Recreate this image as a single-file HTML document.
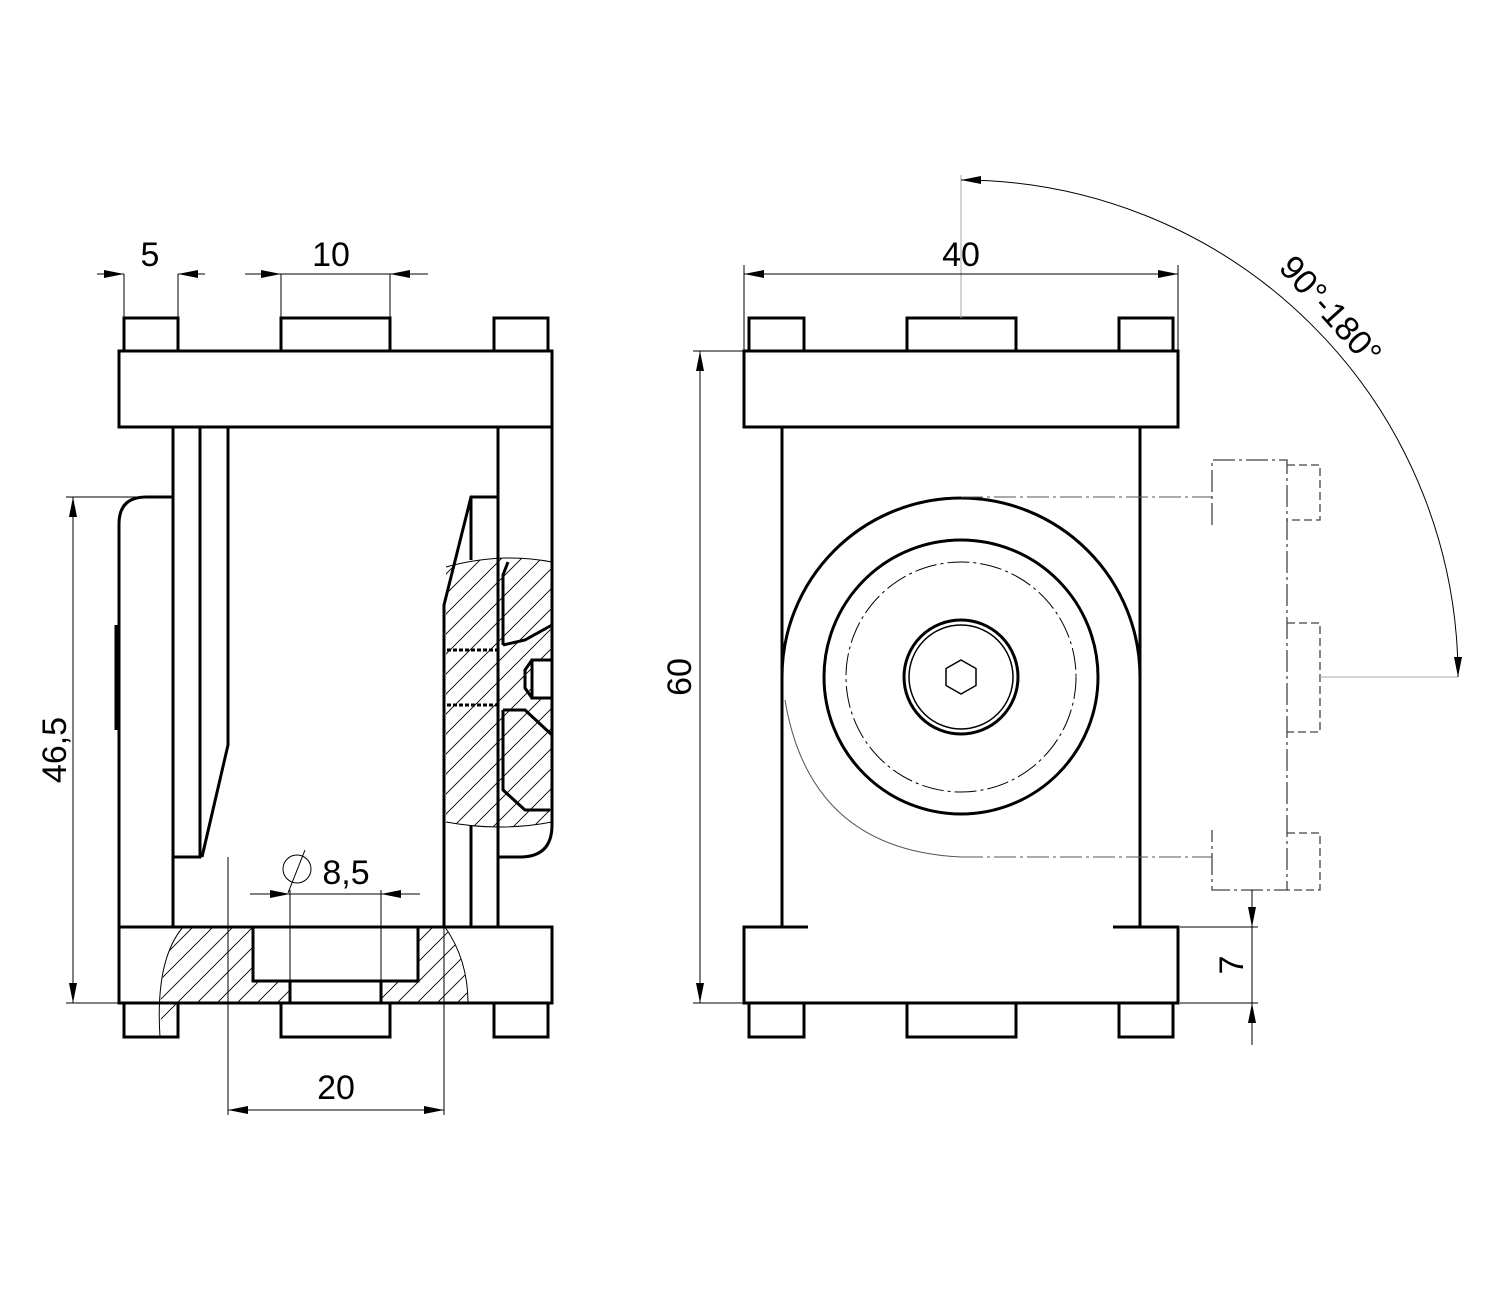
<!DOCTYPE html>
<html><head><meta charset="utf-8"><style>html,body{margin:0;padding:0;background:#fff}svg{display:block}</style></head><body>
<svg width="1500" height="1300" viewBox="0 0 1500 1300" xmlns="http://www.w3.org/2000/svg" font-family="Liberation Sans, sans-serif">
<defs>
<pattern id="h" x="0" y="0" width="20" height="20" patternUnits="userSpaceOnUse"><path d="M-5 5 L5 -5 M0 20 L20 0 M15 25 L25 15" stroke="#000" stroke-width="0.9"/></pattern>
<marker id="a" viewBox="0 0 20 8" refX="20" refY="4" markerWidth="20" markerHeight="8" markerUnits="userSpaceOnUse" orient="auto-start-reverse"><path d="M0,0 L20,4 L0,8 z" fill="#000"/></marker>
</defs>
<!-- hatching left view -->
<path d="M446 567 Q500 552 552 562 V822 Q500 832 446 822 Z" fill="url(#h)"/>
<path d="M183 927 H253 V981 H290 V1003 H381 V981 H418 V927 H445 Q468 960 468 1003 H183 Q165 1010 162 1037 Q155 960 183 927 Z" fill="url(#h)"/>
<g fill="none" stroke="#000" stroke-width="1">
<path d="M446 567 Q500 552 552 562 M446 822 Q500 832 552 822"/>
<path d="M183 927 Q155 960 160 1037 M445 927 Q468 960 468 1003"/>
</g>
<g fill="none" stroke="#000" stroke-width="3">
<!-- left view -->
<rect x="124" y="318" width="54" height="33" fill="#fff"/><rect x="281" y="318" width="109" height="33"/><rect x="494" y="318" width="54" height="33"/>
<rect x="119" y="351" width="433" height="76"/>
<path d="M119 927 H552 V1003 H119 Z"/>
<path d="M124 1003 V1037 H178 V1003 M281 1003 V1037 H390 V1003 M494 1003 V1037 H548 V1003"/>
<path d="M253 927 V981 H418 V927 M290 981 V1003 M381 981 V1003"/>
<path d="M173 427 V927 M200 427 V857 H173 M228 427 V745 L202 857"/>
<path d="M173 497 H146 Q119 497 119 524 V927"/><path d="M116 625 V730"/>
<path d="M498 427 V927 M552 427 V825 Q552 857 520 857 H498"/>
<path d="M498 497 H471 L444 605 V927 M471 497 V560 M471 825 V927"/>
<path d="M508 562 L503 575 V645 M503 710 V790 L525 810 H550"/>
<path d="M503 645 L525 640 L552 625 M503 710 L525 710 L552 735"/>
<path d="M532 660 H552 V698 H532 Z" fill="#fff"/>
<path d="M532 660 L525 670 V688 L532 698"/>
<path d="M447 650 H497 M447 705 H497" stroke-dasharray="4 2"/>
<!-- right view -->
<rect x="749" y="318" width="55" height="33"/><rect x="907" y="318" width="109" height="33"/><rect x="1119" y="318" width="54" height="33"/>
<rect x="744" y="351" width="434" height="76"/>
<path d="M808 927 H744 V1003 H1178 V927 H1113"/>
<path d="M749 1003 V1037 H804 V1003 M907 1003 V1037 H1016 V1003 M1119 1003 V1037 H1173 V1003"/>
<path d="M782 427 V927 M1140 427 V927"/>
<path d="M782 677 A179 179 0 0 1 1140 677"/>
<circle cx="961" cy="677" r="137"/>
<circle cx="961" cy="677" r="57"/>
<circle cx="961" cy="677" r="52" stroke-width="1.5"/>
<path d="M961 660 L976 668.5 V685.5 L961 694 L946 685.5 V668.5 Z" stroke-width="1.5"/>
</g>
<g fill="none" stroke="#000" stroke-width="1">
<circle cx="961" cy="677" r="115" stroke-dasharray="22 4 3 4"/>
<path d="M785 700 Q810 850 961 857" stroke="#555"/>
<path d="M961 857 H1212 M961 497 H1212" stroke-dasharray="22 4 3 4" stroke="#555"/>
<g stroke="#444" stroke-width="1.3">
<path d="M1212 525 V460 H1287 V890 H1212 V830" stroke-dasharray="22 4 3 4"/>
<path d="M1287 465 H1320 V520 H1287 M1287 623 H1320 V732 H1287 M1287 833 H1320 V890 H1287" stroke-dasharray="8 4"/>
</g>
<path d="M1320 677 H1458" stroke="#aaa"/>
<path d="M961 175 V318" stroke="#aaa"/>
<!-- dims left -->
<path d="M124 274 V318 M178 274 V318 M281 274 V318 M390 274 V318"/>
<path d="M97 274 H124" marker-end="url(#a)"/><path d="M205 274 H178" marker-end="url(#a)"/>
<path d="M245 274 H281" marker-end="url(#a)"/><path d="M428 274 H390" marker-end="url(#a)"/>
<path d="M281 274 H390"/>
<path d="M66 497 H140 M66 1003 H119"/>
<path d="M73 497 V1003" marker-start="url(#a)" marker-end="url(#a)"/>
<path d="M228 857 V1115 M444 927 V1115"/>
<path d="M228 1110 H444" marker-start="url(#a)" marker-end="url(#a)"/>
<path d="M290 890 V1003 M381 890 V1003"/>
<path d="M250 894 H290" marker-end="url(#a)"/><path d="M420 894 H381" marker-end="url(#a)"/><path d="M290 894 H381"/>
<circle cx="297" cy="869" r="14"/><path d="M288 893 L305 850"/>
<!-- dims right -->
<path d="M744 351 V265 M1178 351 V265"/>
<path d="M744 274 H1178" marker-start="url(#a)" marker-end="url(#a)"/>
<path d="M693 351 H744 M693 1003 H744"/>
<path d="M700 351 V1003" marker-start="url(#a)" marker-end="url(#a)"/>
<path d="M1180 927 H1258 M1180 1003 H1258"/>
<path d="M1252 890 V927" marker-end="url(#a)"/><path d="M1252 1045 V1003" marker-end="url(#a)"/><path d="M1252 927 V1003"/>
<path d="M961 180 A497 497 0 0 1 1458 677" marker-start="url(#a)" marker-end="url(#a)"/>
</g>
<g font-size="34" fill="#000" text-anchor="middle">
<text x="150" y="266">5</text>
<text x="331" y="266">10</text>
<text x="961" y="266">40</text>
<text x="336" y="1099">20</text>
<text x="346" y="884">8,5</text>
<text transform="translate(66,750) rotate(-90)">46,5</text>
<text transform="translate(691,677) rotate(-90)">60</text>
<text transform="translate(1243,965) rotate(-90)">7</text>
<text transform="translate(1322,318) rotate(48)">90°-180°</text>
</g>
</svg>
</body></html>
